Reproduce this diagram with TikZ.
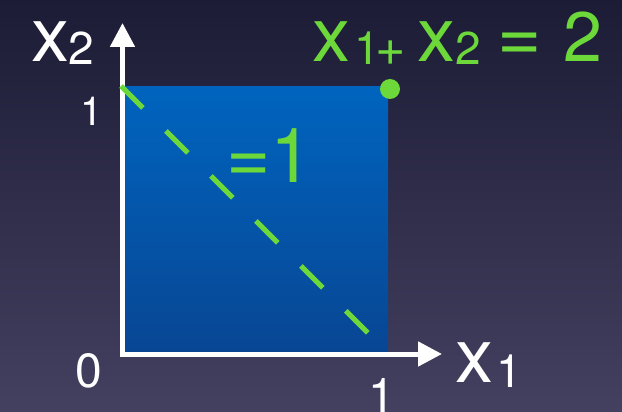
\documentclass[tikz,border=0pt]{standalone}
\usepackage{fontspec}
\setmainfont{TeX Gyre Heros}
\usetikzlibrary{arrows.meta}
\definecolor{bgtop}{RGB}{28,28,54}
\definecolor{bgbot}{RGB}{68,64,96}
\definecolor{sqtop}{RGB}{0,100,190}
\definecolor{sqbot}{RGB}{8,70,148}
\definecolor{lime}{RGB}{108,216,58}
\tikzset{
  lbl/.style={inner sep=0pt, outer sep=0pt, anchor=base west},
  big/.style={font=\fontsize{76}{76}\selectfont},
  sub/.style={font=\fontsize{46}{46}\selectfont},
  tick/.style={font=\fontsize{40}{40}\selectfont},
  tickb/.style={font=\fontsize{48}{48}\selectfont},
  axisline/.style={draw=white, line width=5pt, line join=miter,
    {Triangle[length=24pt,width=24pt]}-{Triangle[length=24pt,width=24pt]}},
  dline/.style={draw=lime, line width=5pt, dash pattern=on 31pt off 32.6pt},
}
\begin{document}
\begin{tikzpicture}[x=1pt,y=-1pt]
  \useasboundingbox (0,0) rectangle (622,412);
  \shade[top color=bgtop, bottom color=bgbot] (0,0) rectangle (622,412);
  % square
  \shade[top color=sqtop, bottom color=sqbot] (125,87) rectangle (388,352);
  % axes
  \coordinate (O) at (122.5,354);
  \coordinate (xend) at (442,354);
  \coordinate (yend) at (122.5,23);
  \draw[axisline] (yend) -- (O) -- (xend);
  % dashed line x1+x2=1
  \coordinate (d1) at (121,86);
  \coordinate (d2) at (370,335);
  \draw[dline] (d1) -- (d2);
  % point (1,1)
  \node[circle, fill=lime, minimum size=20pt, inner sep=0pt] (dot) at (390,89) {};
  % axis labels
  \node[lbl,big,text=white] (x2x) at (31,62) {x};
  \node[lbl,sub,text=white] (x2s) at (68,65) {2};
  \node[lbl,big,text=white] (x1x) at (455,382) {x};
  \node[lbl,sub,text=white] (x1s) at (496,387) {1};
  \node[lbl,tick,text=white] (ty1) at (80.6,126) {1};
  \node[lbl,tickb,text=white] (t0) at (75,387) {0};
  \node[lbl,tickb,text=white] (tx1) at (368,412) {1};
  % green labels
  \node[lbl,big,text=lime] (eq1) at (226,182.5) {=1};
  \node[lbl,big,text=lime] (gx1) at (312,62) {x};
  \node[lbl,sub,text=lime] (g1p) at (354.6,65) {1\kern-5pt\raisebox{-1pt}{\fontsize{52}{52}\selectfont +}};
  \node[lbl,big,text=lime] (gx2) at (417,62) {x};
  \node[lbl,sub,text=lime] (g2) at (455,65) {2};
  \node[lbl,big,text=lime] (geq) at (497,62) {=};
  \node[lbl,font=\fontsize{70}{70}\selectfont,text=lime] (gtwo) at (563,62) {2};
\end{tikzpicture}
\end{document}
